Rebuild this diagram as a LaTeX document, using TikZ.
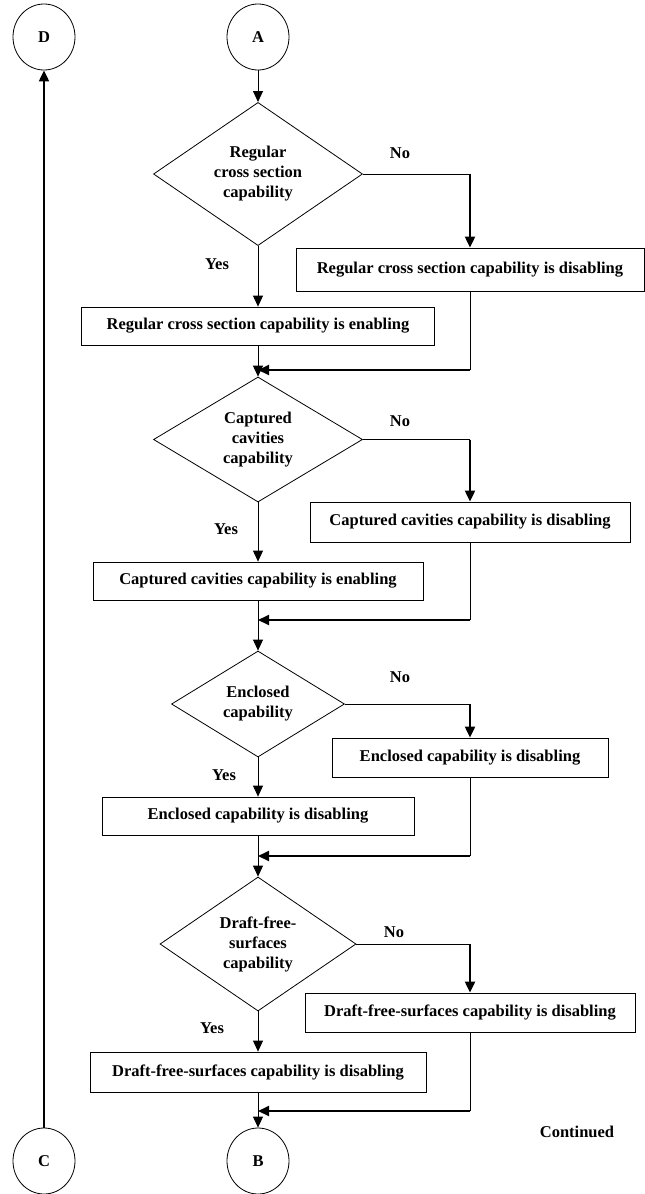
\documentclass[tikz,border=0pt]{standalone}
\usepackage{fontspec}
\setmainfont{Liberation Serif}
\usetikzlibrary{shapes.geometric,arrows.meta}
\begin{document}
\begin{tikzpicture}[x=1pt,y=-1pt,
  every node/.style={font=\fontsize{16.5}{20}\selectfont\bfseries},
  thinline/.style={line width=0.8pt},
  thickline/.style={line width=2pt},
  tip/.style={-{Triangle[length=11pt,width=10pt]}},
  box/.style={draw,rectangle,line width=0.8pt,inner sep=0pt},
  decision/.style={draw,diamond,line width=0.8pt,inner sep=0pt,align=center},
  conn/.style={draw,ellipse,line width=0.8pt,inner sep=0pt,minimum width=62pt,minimum height=66pt},
  lbl/.style={inner sep=0pt}
]
\useasboundingbox (0,0) rectangle (645,1194);

% off-page connectors
\node[conn] (D) at (44,37) {D};
\node[conn] (A) at (258,37) {A};
\node[conn] (C) at (44,1161) {C};
\node[conn] (B) at (258,1161) {B};

% first decision
\node[decision,minimum width=209pt,minimum height=136pt] (d1) at (258,174) {Regular\\cross section\\capability};
\node[box,minimum width=348pt,minimum height=43pt] (r1) at (470,269.5) {Regular cross section capability is disabling};
\node[box,minimum width=353pt,minimum height=38pt] (l1) at (258,326) {Regular cross section capability is enabling};

% second decision
\node[decision,minimum width=209pt,minimum height=125pt] (d2) at (258,439.5) {Captured\\cavities\\capability};
\node[box,minimum width=320pt,minimum height=40pt] (r2) at (470,522) {Captured cavities capability is disabling};
\node[box,minimum width=330pt,minimum height=38pt] (l2) at (258,581) {Captured cavities capability is enabling};

% third decision
\node[decision,minimum width=173pt,minimum height=106pt] (d3) at (258,704) {Enclosed\\capability};
\node[box,minimum width=276pt,minimum height=39pt] (r3) at (470,757.5) {Enclosed capability is disabling};
\node[box,minimum width=312pt,minimum height=38pt] (l3) at (258,816) {Enclosed capability is disabling};

% fourth decision
\node[decision,minimum width=196pt,minimum height=134pt] (d4) at (258,944) {Draft-free-\\surfaces\\capability};
\node[box,minimum width=330pt,minimum height=39pt] (r4) at (470,1012.5) {Draft-free-surfaces capability is disabling};
\node[box,minimum width=336pt,minimum height=40pt] (l4) at (258,1072) {Draft-free-surfaces capability is disabling};

% branch labels
\node[lbl] (no1) at (400,153) {No};
\node[lbl] (no2) at (400,421) {No};
\node[lbl] (no3) at (400,677) {No};
\node[lbl] (no4) at (394,932) {No};
\node[lbl] (yes1) at (217,264) {Yes};
\node[lbl] (yes2) at (226,529) {Yes};
\node[lbl] (yes3) at (224,775) {Yes};
\node[lbl] (yes4) at (212,1028) {Yes};
\node[lbl] (cont) at (577,1132) {Continued};

% junction points on the main line
\coordinate (j1) at (258,370);
\coordinate (j2) at (258,620);
\coordinate (j3) at (258,856);
\coordinate (j4) at (258,1111);

% main flow
\draw[thinline,tip] (A) -- (d1);
\draw[thinline,tip] (d1.south) -- (l1.north);
\draw[thinline,tip] (l1.south) -- (d2.north);
\draw[thinline,tip] (d2.south) -- (l2.north);
\draw[thinline,tip] (l2.south) -- (d3.north);
\draw[thinline,tip] (d3.south) -- (l3.north);
\draw[thinline,tip] (l3.south) -- (d4.north);
\draw[thinline,tip] (d4.south) -- (l4.north);
\draw[thinline,tip] (l4.south) -- (B.north);

% "No" branches
\draw[thinline] (d1.east) -- (d1.east -| r1.north);
\draw[thickline,tip] (d1.east -| r1.north) -- (r1.north);
\draw[thinline] (d2.east) -- (d2.east -| r2.north);
\draw[thickline,tip] (d2.east -| r2.north) -- (r2.north);
\draw[thinline] (d3.east) -- (d3.east -| r3.north);
\draw[thickline,tip] (d3.east -| r3.north) -- (r3.north);
\draw[thinline] (d4.east) -- (d4.east -| r4.north);
\draw[thickline,tip] (d4.east -| r4.north) -- (r4.north);

% returns to the main line
\draw[thinline] (r1.south) -- (r1.south |- j1);
\draw[thickline,tip] (r1.south |- j1) -- (j1);
\draw[thinline] (r2.south) -- (r2.south |- j2);
\draw[thickline,tip] (r2.south |- j2) -- (j2);
\draw[thinline] (r3.south) -- (r3.south |- j3);
\draw[thickline,tip] (r3.south |- j3) -- (j3);
\draw[thinline] (r4.south) -- (r4.south |- j4);
\draw[thickline,tip] (r4.south |- j4) -- (j4);

% link from C back up to D
\draw[thickline,tip] (C.north) -- (D.south);
\end{tikzpicture}
\end{document}
